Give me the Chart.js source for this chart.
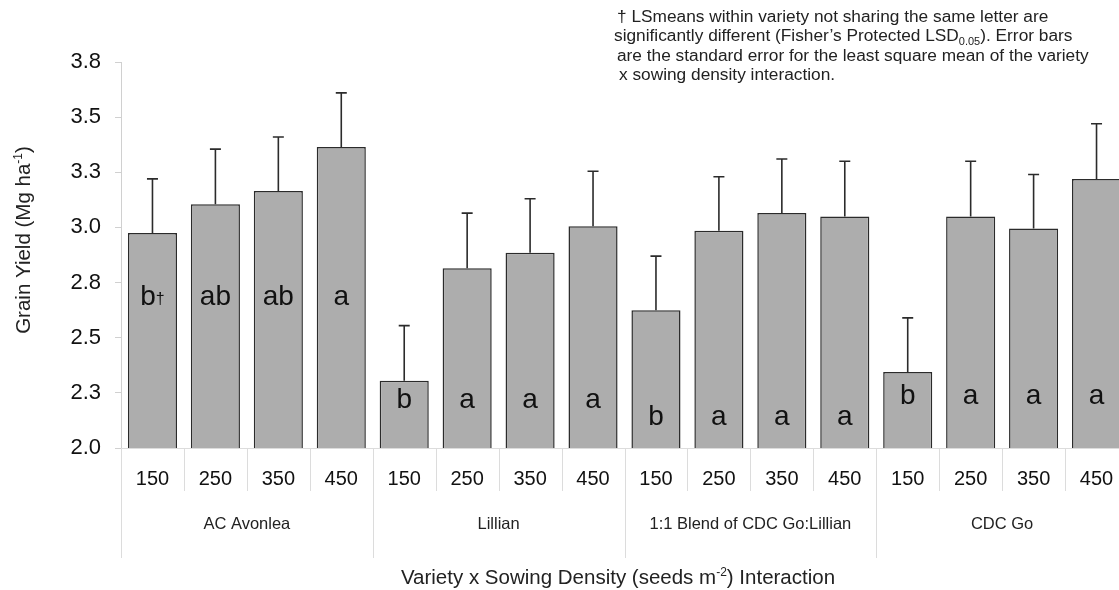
<!DOCTYPE html>
<html>
<head>
<meta charset="utf-8">
<script src="https://cdn.jsdelivr.net/npm/chart.js@4"></script>
<style>
  html, body { margin: 0; padding: 0; background: #fff; overflow: hidden; }
  .wrap { width: 1130px; height: 590px; }
</style>
</head>
<body>
<div class="wrap"><canvas class="js-chart"></canvas></div>
<script>
const ctx = document.querySelector(".js-chart").getContext("2d");

// ====== data ======
const densities = ["150", "250", "350", "450", "150", "250", "350", "450",
                   "150", "250", "350", "450", "150", "250", "350", "450"];
const varieties = ["AC Avonlea", "Lillian", "1:1 Blend of CDC Go:Lillian", "CDC Go"];
const yields = [2.975, 3.105, 3.165, 3.365, 2.305, 2.815, 2.885, 3.005,
                2.625, 2.985, 3.065, 3.05, 2.345, 3.05, 2.995, 3.22];
const stdErr = [0.245, 0.25, 0.245, 0.245, 0.25, 0.25, 0.245, 0.25,
                0.245, 0.245, 0.245, 0.25, 0.245, 0.25, 0.245, 0.25];
const letters = ["b", "ab", "ab", "a", "b", "a", "a", "a",
                 "b", "a", "a", "a", "b", "a", "a", "a"];
const yTickLabels = ["2.0", "2.3", "2.5", "2.8", "3.0", "3.3", "3.5", "3.8"];
const noteLines = [
  ["† LSmeans within variety not sharing the same letter are"],
  ["significantly different (Fisher’s Protected LSD", "0.05", "). Error bars"],
  ["are the standard error for the least square mean of the variety"],
  ["x sowing density interaction."],
];

const FONT = "'Liberation Sans', Arial, Helvetica, sans-serif";
// letter baseline (in yield units) for each variety block
const letterBase = [2.65, 2.18, 2.105, 2.2];

const extras = {
  id: "extras",
  afterDatasetsDraw(chart) {
    const c = chart.ctx;
    const y = chart.scales.y;
    const meta = chart.getDatasetMeta(0);

    // error bars
    c.save();
    c.strokeStyle = "#2b2b2b";
    c.lineWidth = 1.6;
    meta.data.forEach((bar, i) => {
      const top = y.getPixelForValue(yields[i] + stdErr[i]);
      c.beginPath();
      c.moveTo(bar.x, bar.y);
      c.lineTo(bar.x, top);
      c.moveTo(bar.x - 5.5, top);
      c.lineTo(bar.x + 5.5, top);
      c.stroke();
    });

    // significance letters
    c.fillStyle = "#111";
    c.textBaseline = "alphabetic";
    meta.data.forEach((bar, i) => {
      const by = y.getPixelForValue(letterBase[Math.floor(i / 4)]);
      if (i === 0) {
        c.font = "28px " + FONT;
        const w1 = c.measureText(letters[i]).width;
        c.font = "16px " + FONT;
        const w2 = c.measureText("†").width;
        const sx = bar.x - (w1 + w2) / 2;
        c.textAlign = "left";
        c.font = "28px " + FONT;
        c.fillText(letters[i], sx, by);
        c.font = "16px " + FONT;
        c.fillText("†", sx + w1, by - 1);
      } else {
        c.textAlign = "center";
        c.font = "28px " + FONT;
        c.fillText(letters[i], bar.x, by);
      }
    });
    c.restore();
  },
  afterDraw(chart) {
    const c = chart.ctx;
    const x = chart.scales.x;
    const area = chart.chartArea;
    const step = (x.right - x.left) / densities.length;

    c.save();
    // category separators under the axis
    c.strokeStyle = "#dcdcdc";
    c.lineWidth = 1;
    for (let i = 0; i <= densities.length; i++) {
      const px = Math.round(x.left + i * step) + 0.5;
      c.beginPath();
      c.moveTo(px, area.bottom);
      c.lineTo(px, area.bottom + (i % 4 === 0 ? 110 : 43));
      c.stroke();
    }

    // variety labels
    c.fillStyle = "#222";
    c.font = "16.5px " + FONT;
    c.textAlign = "center";
    c.textBaseline = "middle";
    varieties.forEach((v, g) => {
      c.fillText(v, x.left + (g * 4 + 2) * step, area.bottom + 76);
    });

    // x axis title with superscript
    const xParts = [["Variety x Sowing Density (seeds m", 20.5, 0], ["-2", 12, -8], [") Interaction", 20.5, 0]];
    drawParts(c, xParts, 618, 584, "center");

    // y axis title, rotated
    c.save();
    c.translate(23, 240);
    c.rotate(-Math.PI / 2);
    drawParts(c, [["Grain Yield (Mg ha", 20.5, 0], ["-1", 12, -8], [")", 20.5, 0]], 0, 7, "center");
    c.restore();

    // note at top right
    const starts = [617, 614, 617, 619];
    noteLines.forEach((line, i) => {
      const parts = line.map((t, k) => (k === 1 ? [t, 11, 4] : [t, 17.3, 0]));
      drawParts(c, parts, starts[i], 21.5 + i * 19.6, "left");
    });
    c.restore();
  },
};

function drawParts(c, parts, px, baseY, align) {
  c.fillStyle = "#222";
  c.textBaseline = "alphabetic";
  c.textAlign = "left";
  let total = 0;
  parts.forEach(([t, size]) => {
    c.font = size + "px " + FONT;
    total += c.measureText(t).width;
  });
  let cx = align === "center" ? px - total / 2 : px;
  parts.forEach(([t, size, dy]) => {
    c.font = size + "px " + FONT;
    c.fillText(t, cx, baseY + dy);
    cx += c.measureText(t).width;
  });
}

new Chart(ctx, {
  type: "bar",
  data: {
    labels: densities,
    datasets: [
      {
        data: yields,
        backgroundColor: "#adadad",
        borderColor: "#2b2b2b",
        borderWidth: 1.5,
        borderSkipped: false,
        barPercentage: 0.78,
        categoryPercentage: 1,
      },
    ],
  },
  options: {
    responsive: true,
    maintainAspectRatio: false,
    animation: false,
    layout: { padding: { top: 62, right: 2, left: 0, bottom: 0 } },
    plugins: { legend: { display: false }, tooltip: { enabled: false } },
    scales: {
      x: {
        afterFit(scale) { scale.height = 142; },
        grid: { display: false },
        border: { display: true, color: "#dcdcdc", width: 1 },
        ticks: { color: "#111", font: { size: 20, family: FONT }, padding: 11, maxRotation: 0, autoSkip: false },
      },
      y: {
        min: 2,
        max: 3.75,
        afterFit(scale) { scale.width = 121; },
        afterBuildTicks(scale) {
          scale.ticks = yTickLabels.map((t, i) => ({ value: 2 + i * 0.25 }));
        },
        grid: { drawOnChartArea: false, color: "#d0d0d0", tickLength: 6 },
        border: { display: true, color: "#d0d0d0", width: 1 },
        ticks: {
          color: "#111",
          font: { size: 22, family: FONT },
          padding: 14,
          callback(value, index) {
            return yTickLabels[index];
          },
        },
      },
    },
  },
  plugins: [extras],
});
</script>
</body>
</html>
